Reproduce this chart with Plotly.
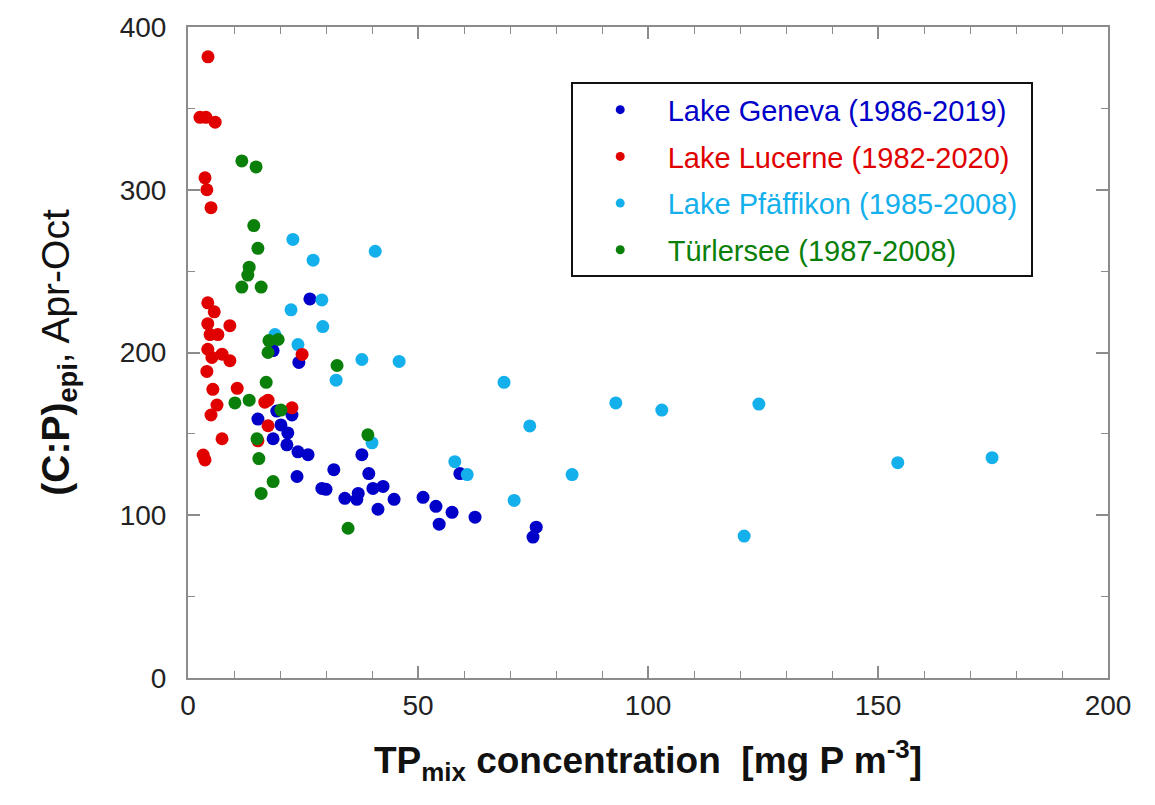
import plotly.graph_objects as go

# TP concentration in the mixed layer [mg P m-3] and epilimnetic C:P ratio (Apr-Oct)
geneva_tp = [26.5, 24.1, 18.5, 15.2, 19.3, 22.6, 20.2, 21.7, 18.5, 21.5, 23.9, 26.1,
             23.7, 31.7, 37.8, 39.3, 29.1, 30.0, 34.1, 37.0, 36.7, 40.2, 42.4, 41.3,
             44.8, 51.1, 53.9, 54.6, 57.4, 62.4, 59.1, 75.7, 75.0]
geneva_cp = [232.9, 193.9, 201.2, 159.1, 164.0, 161.6, 155.5, 150.6, 147.0, 143.3, 139.0, 137.2,
             123.8, 128.0, 137.2, 125.6, 116.5, 115.9, 110.4, 113.4, 109.8, 116.5, 117.7, 103.7,
             109.8, 111.0, 105.5, 94.5, 101.8, 98.8, 125.6, 92.7, 86.6]

lucerne_tp = [4.35, 2.6, 3.9, 5.9, 3.7, 4.1, 5.0, 4.3, 5.7, 4.3, 9.1, 4.8, 6.5, 4.3, 5.2, 7.4,
              9.1, 4.1, 5.4, 10.7, 6.3, 5.0, 7.4, 3.3, 3.7, 16.7, 17.4, 17.4, 22.6, 24.8, 15.2]
lucerne_cp = [381.7, 344.5, 344.5, 341.5, 307.3, 300.0, 289.0, 230.5, 225.0, 217.7, 216.5, 211.0,
              211.0, 202.0, 197.0, 199.0, 195.0, 188.4, 177.4, 178.0, 167.7, 161.6, 147.0, 137.0,
              134.0, 169.5, 170.7, 155.0, 166.0, 198.8, 145.7]

pfaeffikon_tp = [22.8, 27.2, 40.7, 22.4, 29.1, 29.3, 23.9, 18.9, 37.8, 32.2, 45.9, 68.7,
                 74.3, 93.0, 103.0, 124.1, 40.0, 58.0, 60.7, 83.5, 70.9, 120.9, 154.3, 174.8]
pfaeffikon_cp = [269.5, 256.7, 262.2, 226.2, 232.3, 215.9, 204.9, 211.0, 195.7, 183.0, 194.5, 181.7,
                 154.9, 169.0, 164.6, 168.3, 144.5, 132.9, 125.0, 125.0, 109.1, 87.2, 132.3, 135.4]

tuerlersee_tp = [11.7, 14.8, 14.3, 15.2, 13.3, 13.0, 11.7, 15.9, 17.6, 19.6, 17.4, 32.4,
                 17.0, 10.2, 13.3, 20.2, 15.0, 15.4, 18.5, 15.9, 39.1, 34.8]
tuerlersee_cp = [317.7, 314.0, 278.0, 264.0, 252.4, 247.6, 240.2, 240.2, 207.3, 208.0, 200.0, 192.0,
                 181.7, 169.0, 170.7, 164.6, 147.0, 134.8, 120.7, 113.4, 149.4, 92.0]

x_ticks = [0, 50, 100, 150, 200]
y_ticks = [0, 100, 200, 300, 400]

FONT = "Arial, Liberation Sans, Helvetica, sans-serif"
AXIS_GREY = "#8c8c8c"

series = [
    # (label, colour, x, y, legend position)
    ("Lake Geneva (1986-2019)", "#0000C8", geneva_tp, geneva_cp, 1),
    ("Lake Pfäffikon (1985-2008)", "#14B0EC", pfaeffikon_tp, pfaeffikon_cp, 3),
    ("Lake Lucerne (1982-2020)", "#E00000", lucerne_tp, lucerne_cp, 2),
    ("Türlersee (1987-2008)", "#0A7F0A", tuerlersee_tp, tuerlersee_cp, 4),
]

fig = go.Figure()
for label, colour, xs, ys, rank in series:
    # data points (drawn in this order so Türlersee sits on top)
    fig.add_trace(go.Scatter(
        x=xs, y=ys, mode="markers",
        marker=dict(size=13, color=colour, line=dict(width=0)),
        showlegend=False, name=label, hoverinfo="x+y+name",
    ))
    # legend entry with a smaller dot and coloured label
    fig.add_trace(go.Scatter(
        x=[None], y=[None], mode="markers",
        marker=dict(size=9, color=colour),
        name=f"<span style='color:{colour}'>{label}</span>&nbsp;",
        legendgroup=label, legendrank=rank, showlegend=True,
    ))

axis_common = dict(
    showline=True, linecolor=AXIS_GREY, linewidth=2, mirror="ticks",
    ticks="inside", ticklen=12, tickwidth=1.5, tickcolor=AXIS_GREY,
    showgrid=False, zeroline=False,
    tickfont=dict(family=FONT, size=28, color="#222222"),
)

fig.update_xaxes(
    range=[0, 200], tickvals=x_ticks, ticktext=[str(v) for v in x_ticks],
    minor=dict(dtick=10, ticks="inside", ticklen=7, tickcolor=AXIS_GREY, tickwidth=1.2),
    ticklabelstandoff=1,
    title=dict(
        text="<b>TP<sub>mix</sub> concentration  [mg P m<sup>-3</sup>]</b>",
        font=dict(family=FONT, size=37, color="#111111"), standoff=28,
    ),
    **axis_common,
)
fig.update_yaxes(
    range=[0, 400], tickvals=y_ticks, ticktext=[str(v) for v in y_ticks],
    minor=dict(dtick=50, ticks="inside", ticklen=7, tickcolor=AXIS_GREY, tickwidth=1.2),
    ticklabelstandoff=14,
    title=dict(
        text="<b>(C:P)<sub>epi</sub></b>, Apr-Oct",
        font=dict(family=FONT, size=39, color="#111111"), standoff=38,
    ),
    **axis_common,
)

fig.update_layout(
    width=1155, height=805,
    margin=dict(l=188, r=47, t=22, b=127),
    paper_bgcolor="white", plot_bgcolor="white",
    font=dict(family=FONT),
    legend=dict(
        x=0.416, y=0.915, xanchor="left", yanchor="top",
        bgcolor="white", bordercolor="#111111", borderwidth=2,
        font=dict(family=FONT, size=29),
        tracegroupgap=6, itemwidth=85,
    ),
)

fig.write_html("out.html")
